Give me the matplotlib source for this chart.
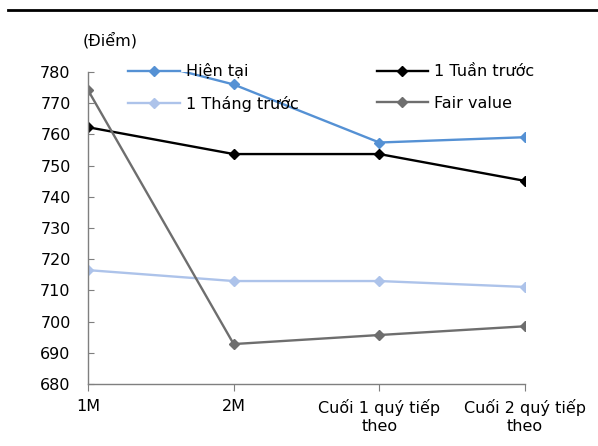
import matplotlib
matplotlib.use('Agg')
import matplotlib.pyplot as plt
from matplotlib.lines import Line2D

categories = ['1M', '2M', 'Cuối 1 quý tiếp\ntheo', 'Cuối 2 quý tiếp\ntheo']
hien_tai = [788, 776, 757.4, 759.1]
tuan_truoc = [762.3, 753.7, 753.7, 745.1]
thang_truoc = [716.5, 713.0, 713.0, 711.1]
fair_value = [774.2, 692.8, 695.7, 698.5]
y_ticks = [680, 690, 700, 710, 720, 730, 740, 750, 760, 770, 780]

plt.rcParams['font.family'] = ['DejaVu Sans']
plt.rcParams['font.size'] = 11.5

fig = plt.figure(figsize=(5.98, 4.46), dpi=100)
ax = fig.add_axes([88 / 598, 1 - 384 / 446, (525 - 88) / 598, (384 - 72) / 446])

x = list(range(len(categories)))
series = [
    ('Hiện tại', hien_tai, '#5591D4'),
    ('1 Tuần trước', tuan_truoc, '#000000'),
    ('1 Tháng trước', thang_truoc, '#ADC3EA'),
    ('Fair value', fair_value, '#6E6E6E'),
]
lines = {}
for label, vals, col in series:
    ln, = ax.plot(x, vals, color=col, lw=1.7, marker='D', ms=5, label=label)
    lines[label] = ln

ax.set_xlim(0, 3)
ax.set_ylim(680, 780)
ax.set_yticks(y_ticks)
ax.set_xticks(x)
ax.set_xticklabels(categories)
for s in ['top', 'right']:
    ax.spines[s].set_visible(False)
for s in ['left', 'bottom']:
    ax.spines[s].set_color('#7f7f7f')
    ax.spines[s].set_linewidth(1)
ax.tick_params(axis='y', direction='in', length=4, color='#7f7f7f', pad=12.5)
ax.tick_params(axis='x', direction='out', length=5, color='#7f7f7f', pad=6)

# legend filled row by row like the original
order = ['Hiện tại', '1 Tháng trước', '1 Tuần trước', 'Fair value']
leg = ax.legend([lines[k] for k in order], order, ncol=2, frameon=False, loc='upper left',
                bbox_to_anchor=(128 / 598, 1 - 64 / 446), bbox_transform=fig.transFigure,
                handlelength=3.25, handletextpad=0.35, columnspacing=4.9,
                labelspacing=1.05, borderpad=0, borderaxespad=0)

fig.text(83 / 598, 1 - 40 / 446, '(Điểm)', ha='left', va='center', fontsize=11.5)
fig.add_artist(Line2D([8 / 598, 1], [1 - 10 / 446, 1 - 10 / 446], color='black', lw=2,
                      transform=fig.transFigure))

fig.savefig('out.png', dpi=100)
